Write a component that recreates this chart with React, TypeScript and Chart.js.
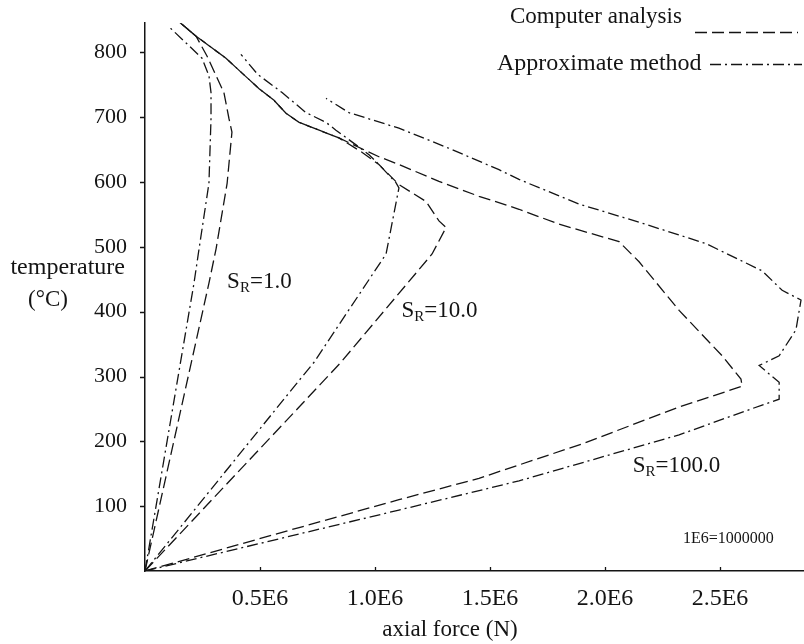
import React, { useEffect, useRef } from "react";
import { Chart, registerables } from "chart.js";

Chart.register(...registerables);

// Axis ticks
const xTickValues = [0.5, 1.0, 1.5, 2.0, 2.5]; // axial force in 1E6 N
const xTickLabels = ["0.5E6", "1.0E6", "1.5E6", "2.0E6", "2.5E6"];
const yTickValues = [100, 200, 300, 400, 500, 600, 700, 800];
const yTickLabels = ["100", "200", "300", "400", "500", "600", "700", "800"];

// S_R = 1.0
const sr1ComputerForce = [0, 0.278, 0.309, 0.357, 0.378, 0.365, 0.343, 0.309, 0.27, 0.222, 0.152];
const sr1ComputerTemp = [0, 444, 497, 598, 677, 698, 738, 764, 794, 825, 846];
const sr1ApproxForce = [0, 0.213, 0.235, 0.278, 0.287, 0.287, 0.278, 0.248, 0.1];
const sr1ApproxTemp = [0, 444, 497, 598, 698, 738, 764, 791, 841];

// S_R = 10.0
const sr10ComputerForce = [0, 0.67, 0.852, 1.248, 1.309, 1.278, 1.222, 1.104, 1.017, 0.943, 0.843, 0.757, 0.67, 0.613, 0.561, 0.496, 0.422, 0.352, 0.222, 0.152];
const sr10ComputerTemp = [0, 253, 322, 489, 530, 540, 570, 596, 627, 646, 668, 680, 692, 706, 726, 744, 768, 791, 825, 846];
const sr10ApproxForce = [0, 0.67, 0.735, 1.048, 1.104, 1.091, 1.017, 0.974, 0.93, 0.83, 0.787, 0.7, 0.596, 0.49, 0.417];
const sr10ApproxTemp = [0, 294, 322, 489, 591, 599, 627, 642, 654, 680, 692, 707, 738, 766, 797];

// S_R = 100.0
const sr100ComputerForce = [0, 0.67, 1.104, 1.452, 1.9, 2.322, 2.596, 2.591, 2.509, 2.322, 2.148, 2.061, 1.8, 1.626, 1.452, 1.278, 1.104, 1.017, 0.843, 0.67, 0.613, 0.561, 0.496, 0.422, 0.352, 0.222, 0.152];
const sr100ComputerTemp = [0, 67, 110, 143, 196, 253, 285, 296, 332, 402, 477, 508, 535, 558, 578, 601, 627, 639, 668, 692, 706, 726, 744, 768, 791, 825, 846];
const sr100ApproxForce = [0, 1.104, 1.626, 2.322, 2.683, 2.757, 2.757, 2.67, 2.757, 2.83, 2.852, 2.77, 2.683, 2.439, 2.148, 1.887, 1.626, 1.539, 1.322, 1.104, 0.887, 0.787];
const sr100ApproxTemp = [0, 94, 139, 210, 256, 265, 291, 317, 332, 372, 418, 433, 463, 505, 538, 566, 604, 619, 652, 683, 707, 729];

const legendLabels = ["Computer analysis", "Approximate method"];
const curveLabels = [
  { sub: "R", rest: "=1.0", force: 0.357, temp: 436 },
  { sub: "R", rest: "=10.0", force: 1.115, temp: 392 },
  { sub: "R", rest: "=100.0", force: 2.12, temp: 152 },
];

const INK = "#141414";
const SERIF = '"Liberation Serif", "Times New Roman", serif';
const COMPUTER_DASH = [12, 5];
const APPROX_DASH = [11, 4, 2, 4];

function pts(xs: number[], ys: number[]) {
  return xs.map((x, i) => ({ x, y: ys[i] }));
}

function ds(label: string, xs: number[], ys: number[], dash: number[]) {
  return {
    label,
    data: pts(xs, ys),
    showLine: true,
    borderColor: INK,
    borderWidth: 1.3,
    borderDash: dash,
    pointRadius: 0,
    fill: false,
    tension: 0,
  };
}

const overlayPlugin = {
  id: "overlay",
  afterDraw(chart: any) {
    const { ctx, scales } = chart;
    const xs = scales.x;
    const ys = scales.y;
    ctx.save();
    ctx.fillStyle = INK;
    ctx.strokeStyle = INK;
    ctx.lineWidth = 1.3;

    // tick marks
    ctx.setLineDash([]);
    ctx.beginPath();
    yTickValues.forEach((v) => {
      const py = Math.round(ys.getPixelForValue(v)) + 0.5;
      ctx.moveTo(xs.left - 5, py);
      ctx.lineTo(xs.left, py);
    });
    xTickValues.forEach((v) => {
      const px = Math.round(xs.getPixelForValue(v)) + 0.5;
      ctx.moveTo(px, ys.bottom);
      ctx.lineTo(px, ys.bottom - 4);
    });
    ctx.stroke();

    // legend
    ctx.textBaseline = "alphabetic";
    ctx.textAlign = "left";
    ctx.font = `23px ${SERIF}`;
    ctx.fillText(legendLabels[0], 510, 23);
    ctx.font = `24px ${SERIF}`;
    ctx.fillText(legendLabels[1], 497, 70);
    ctx.lineWidth = 1.4;
    ctx.setLineDash(COMPUTER_DASH);
    ctx.beginPath();
    ctx.moveTo(695, 32.5);
    ctx.lineTo(798, 32.5);
    ctx.stroke();
    ctx.setLineDash(APPROX_DASH);
    ctx.beginPath();
    ctx.moveTo(710, 64.5);
    ctx.lineTo(802, 64.5);
    ctx.stroke();
    ctx.setLineDash([]);

    // curve labels S_R
    curveLabels.forEach((c) => {
      const px = xs.getPixelForValue(c.force);
      const py = ys.getPixelForValue(c.temp);
      ctx.font = `23px ${SERIF}`;
      ctx.fillText("S", px, py);
      const sw = ctx.measureText("S").width;
      ctx.font = `15px ${SERIF}`;
      ctx.fillText(c.sub, px + sw, py + 4);
      const rw = ctx.measureText(c.sub).width;
      ctx.font = `23px ${SERIF}`;
      ctx.fillText(c.rest, px + sw + rw, py);
    });

    // unit note
    ctx.font = `16px ${SERIF}`;
    ctx.fillText("1E6=1000000", 683, 543);

    // axis titles
    ctx.font = `23px ${SERIF}`;
    ctx.textAlign = "center";
    ctx.fillText("axial force (N)", 450, 636);
    ctx.font = `24px ${SERIF}`;
    ctx.textAlign = "right";
    ctx.fillText("temperature", 125, 274);
    ctx.font = `23px ${SERIF}`;
    ctx.textAlign = "center";
    ctx.fillText("(°C)", 48, 306);
    ctx.restore();
  },
};

export default function App() {
  const ref = useRef<HTMLCanvasElement | null>(null);

  useEffect(() => {
    document.body.style.margin = "0";
    const canvas = ref.current;
    if (!canvas) return;
    const chart = new Chart(canvas, {
      type: "scatter",
      data: {
        datasets: [
          ds("Computer analysis S_R=1.0", sr1ComputerForce, sr1ComputerTemp, COMPUTER_DASH),
          ds("Approximate method S_R=1.0", sr1ApproxForce, sr1ApproxTemp, APPROX_DASH),
          ds("Computer analysis S_R=10.0", sr10ComputerForce, sr10ComputerTemp, COMPUTER_DASH),
          ds("Approximate method S_R=10.0", sr10ApproxForce, sr10ApproxTemp, APPROX_DASH),
          ds("Computer analysis S_R=100.0", sr100ComputerForce, sr100ComputerTemp, COMPUTER_DASH),
          ds("Approximate method S_R=100.0", sr100ApproxForce, sr100ApproxTemp, APPROX_DASH),
        ] as any,
      },
      options: {
        animation: false,
        responsive: false,
        devicePixelRatio: 1,
        layout: { padding: { top: 17, right: 0, left: 0, bottom: 0 } },
        plugins: {
          legend: { display: false },
          tooltip: { enabled: false },
        },
        elements: { line: { clip: false } as any },
        scales: {
          x: {
            type: "linear",
            min: 0,
            max: 2.865,
            afterBuildTicks: (scale: any) => {
              scale.ticks = xTickValues.map((v) => ({ value: v }));
            },
            afterFit: (scale: any) => {
              scale.height = 73;
            },
            ticks: {
              autoSkip: false,
              maxRotation: 0,
              padding: 5,
              color: INK,
              font: { family: SERIF, size: 24 },
              callback: (v: any) => {
                const i = xTickValues.indexOf(Number(v));
                return i >= 0 ? xTickLabels[i] : "";
              },
            },
            grid: { display: false },
            border: { display: true, color: INK, width: 1.5 },
          },
          y: {
            type: "linear",
            min: 0,
            max: 845,
            afterBuildTicks: (scale: any) => {
              scale.ticks = yTickValues.map((v) => ({ value: v }));
            },
            afterFit: (scale: any) => {
              scale.width = 145;
            },
            ticks: {
              autoSkip: false,
              padding: 10,
              color: INK,
              font: { family: SERIF, size: 22 },
              callback: (v: any) => {
                const i = yTickValues.indexOf(Number(v));
                return i >= 0 ? yTickLabels[i] : "";
              },
            },
            grid: { display: false },
            border: { display: true, color: INK, width: 1.5 },
          },
        },
      } as any,
      plugins: [overlayPlugin],
    });
    return () => chart.destroy();
  }, []);

  return (
    <div style={{ position: "fixed", left: 0, top: 0, width: 804, height: 644, background: "#fff" }}>
      <canvas ref={ref} width={804} height={644} style={{ display: "block" }} />
    </div>
  );
}
